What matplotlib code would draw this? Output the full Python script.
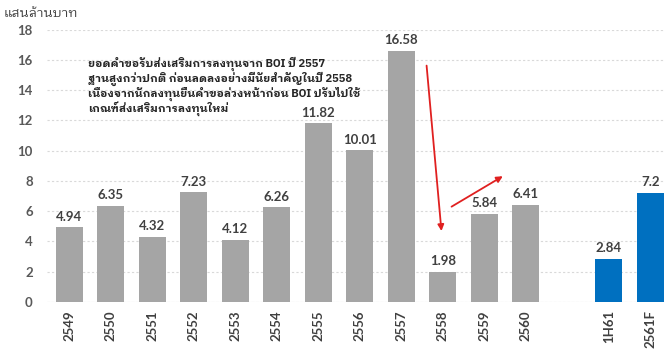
import matplotlib
matplotlib.use("Agg")
import matplotlib.pyplot as plt

# ---- data ----
categories = ["2549", "2550", "2551", "2552", "2553", "2554", "2555", "2556",
              "2557", "2558", "2559", "2560", "1H61", "2561F"]
values = [4.94, 6.35, 4.32, 7.23, 4.12, 6.26, 11.82, 10.01, 16.58, 1.98, 5.84, 6.41, 2.84, 7.2]
positions = [0, 1, 2, 3, 4, 5, 6, 7, 8, 9, 10, 11, 13, 14]
value_labels = ["4.94", "6.35", "4.32", "7.23", "4.12", "6.26", "11.82", "10.01",
                "16.58", "1.98", "5.84", "6.41", "2.84", "7.2"]
is_forecast = [False] * 12 + [True, True]
yticks = [0, 2, 4, 6, 8, 10, 12, 14, 16, 18]
ylabel = "แสนล้านบาท"
note_lines = [
    "ยอดคำขอรับส่งเสริมการลงทุนจาก BOI ปี 2557",
    "ฐานสูงกว่าปกติ ก่อนลดลงอย่างมีนัยสำคัญในปี 2558",
    "เนื่องจากนักลงทุนยื่นคำขอล่วงหน้าก่อน BOI ปรับไปใช้",
    "เกณฑ์ส่งเสริมการลงทุนใหม่",
]

thai_fam = ["IBM Plex Sans Thai Looped", "Loma", "Noto Sans Thai", "DejaVu Sans"]
num_fam = ["Lato", "DejaVu Sans"]
plt.rcParams["font.family"] = num_fam

gray = "#a5a5a5"
blue = "#0070c0"
txt = "#404040"

fig = plt.figure(figsize=(6.65, 3.56), dpi=100)
ax = fig.add_axes([0.07, 0.152, 0.93, 0.765])

colors = [blue if f else gray for f in is_forecast]
ax.bar(positions, values, width=0.65, color=colors, zorder=3)

for p, v, lab in zip(positions, values, value_labels):
    ax.text(p, v + 0.3, lab, ha="center", va="bottom", fontsize=9.5,
            fontweight="bold", color=txt, zorder=4)

ax.set_ylim(0, 18)
ax.set_xlim(-0.55, 14.35)
ax.set_yticks(yticks)
ax.set_yticklabels([str(t) for t in yticks], fontsize=9.5, fontweight="bold", color="#595959")
ax.set_xticks(positions)
ax.set_xticklabels(categories, rotation=90, fontsize=9.5, fontweight="bold", color=txt)
ax.tick_params(axis="both", length=0)
ax.tick_params(axis="y", pad=10)
ax.tick_params(axis="x", pad=6)
for s in ax.spines.values():
    s.set_visible(False)
ax.grid(axis="y", linestyle=(0, (2, 2)), color="#d9d9d9", linewidth=0.8, zorder=0)
ax.axhline(0, color="#e0e0e0", linewidth=0.8, zorder=1)

fig.text(0.006, 0.962, ylabel, fontsize=9.5, color=txt, ha="left", va="center",
         family=thai_fam)

# annotation text, one line per text object
for i, line in enumerate(note_lines):
    ax.text(0.45, 15.7 - i * 0.97, line, fontsize=8, fontweight="bold",
            color="#262626", ha="left", va="center", zorder=5, family=thai_fam)

# red arrows
ax.annotate("", xy=(8.97, 4.5), xytext=(8.6, 15.8),
            arrowprops=dict(arrowstyle="-|>", color="#e02020", lw=1.3,
                            mutation_scale=9), zorder=6)
ax.annotate("", xy=(10.5, 8.4), xytext=(9.15, 6.2),
            arrowprops=dict(arrowstyle="-|>", color="#e02020", lw=1.3,
                            mutation_scale=9), zorder=6)

fig.savefig("out.png", dpi=100)
